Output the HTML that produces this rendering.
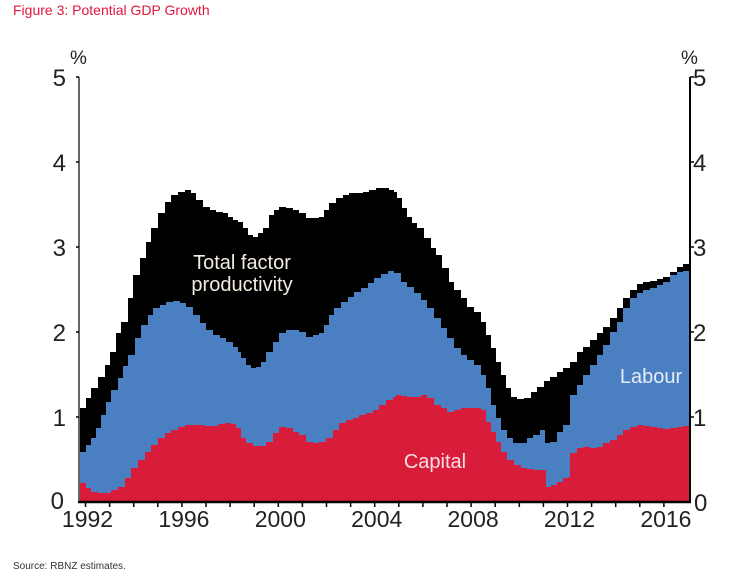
<!DOCTYPE html>
<html>
<head>
<meta charset="utf-8">
<style>
html,body{margin:0;padding:0;background:#fff;}
body{width:734px;height:580px;overflow:hidden;}
svg{display:block;}
text{font-family:"Liberation Sans",Arial,sans-serif;}
</style>
</head>
<body>
<svg width="734" height="580" viewBox="0 0 734 580" xmlns="http://www.w3.org/2000/svg">
<rect width="734" height="580" fill="#fff"/>
<text x="13" y="15" font-size="14" fill="#e2173d">Figure 3: Potential GDP Growth</text>

<!-- TFP (black) -->
<path fill="#000" d="M80,502 V408 H86 V398 H91 V388 H98 V377 H105 V365 H110 V352 H116 V333 H121 V322 H128 V298 H133 V275 H140 V258 H146 V242 H151 V228 H158 V213 H165 V202 H171 V195 H178 V192 H185 V190 H191 V193 H196 V200 H203 V207 H210 V210 H216 V212 H223 V213 H228 V217 H233 V220 H238 V222 H243 V228 H248 V235 H253 V237 H258 V233 H263 V228 H269 V215 H274 V210 H279 V207 H286 V208 H293 V210 H299 V213 H306 V218 H313 V218 H319 V217 H324 V210 H329 V203 H336 V198 H343 V195 H349 V193 H356 V193 H363 V192 H369 V190 H376 V188 H383 V188 H389 V190 H394 V192 H397 V198 H402 V208 H407 V217 H412 V223 H417 V228 H424 V238 H431 V248 H436 V255 H442 V268 H449 V282 H454 V290 H461 V298 H467 V307 H474 V312 H481 V322 H486 V335 H491 V348 H496 V362 H501 V375 H506 V388 H511 V397 H517 V399 H524 V398 H531 V392 H537 V387 H544 V381 H550 V377 H557 V372 H563 V368 H570 V362 H577 V352 H583 V347 H590 V340 H597 V333 H603 V327 H610 V318 H617 V308 H623 V298 H630 V290 H637 V284 H643 V282 H650 V281 H657 V279 H663 V277 H670 V272 H677 V267 H683 V264 H689 V502 Z"/>

<!-- Labour (blue) -->
<path fill="#4a7fc1" d="M80,502 V452 H86 V445 H91 V438 H96 V428 H101 V415 H106 V402 H111 V390 H118 V378 H123 V366 H128 V355 H135 V338 H141 V325 H148 V315 H153 V308 H160 V305 H166 V302 H173 V301 H180 V303 H186 V307 H193 V315 H200 V323 H206 V330 H213 V335 H220 V338 H226 V342 H233 V347 H238 V352 H241 V358 H246 V365 H251 V368 H256 V367 H261 V362 H266 V352 H273 V342 H279 V333 H286 V330 H293 V330 H299 V332 H306 V337 H313 V335 H319 V333 H324 V325 H329 V315 H334 V308 H341 V302 H348 V297 H354 V292 H361 V288 H368 V283 H374 V278 H381 V274 H388 V271 H394 V273 H401 V282 H407 V287 H414 V293 H421 V300 H427 V308 H434 V318 H441 V328 H447 V338 H454 V348 H461 V355 H467 V360 H474 V365 H481 V375 H486 V388 H491 V405 H496 V418 H501 V430 H507 V438 H513 V443 H520 V443 H527 V438 H533 V435 H540 V430 H545 V443 H550 V442 H557 V432 H563 V425 H570 V395 H577 V385 H583 V375 H590 V365 H597 V355 H603 V345 H610 V332 H617 V322 H623 V308 H630 V298 H637 V293 H643 V290 H650 V288 H657 V285 H663 V282 H670 V275 H677 V272 H683 V271 H689 V502 Z"/>

<!-- Capital (red) -->
<path fill="#d81c39" d="M80,502 V483 H86 V488 H91 V492 H98 V493 H105 V493 H111 V490 H118 V487 H125 V478 H131 V468 H138 V460 H145 V452 H151 V445 H158 V438 H165 V433 H171 V430 H178 V427 H185 V425 H191 V425 H198 V425 H205 V426 H211 V426 H218 V424 H225 V423 H231 V424 H236 V428 H241 V438 H246 V443 H253 V446 H259 V446 H266 V442 H273 V433 H279 V427 H286 V428 H293 V432 H299 V435 H306 V442 H313 V443 H319 V442 H326 V438 H333 V430 H339 V423 H346 V420 H353 V418 H359 V415 H366 V413 H373 V410 H379 V405 H386 V400 H393 V397 H396 V395 H401 V396 H407 V397 H414 V397 H421 V395 H427 V398 H434 V405 H441 V408 H447 V412 H454 V410 H461 V408 H467 V408 H474 V408 H481 V410 H486 V422 H491 V432 H496 V442 H501 V452 H507 V460 H514 V465 H521 V468 H527 V469 H534 V470 H541 V470 H546 V487 H551 V485 H557 V482 H563 V478 H568 V477 H570 V453 H577 V448 H583 V447 H590 V448 H597 V447 H603 V443 H610 V440 H617 V435 H623 V430 H630 V427 H637 V425 H643 V426 H650 V427 H657 V428 H663 V429 H670 V428 H677 V427 H683 V426 H689 V502 Z"/>

<!-- series labels -->
<text x="242" y="269" font-size="20" fill="#f3ece2" text-anchor="middle">Total factor</text>
<text x="242" y="291" font-size="20" fill="#f3ece2" text-anchor="middle">productivity</text>
<text x="651" y="383" font-size="20" fill="#e6edf8" text-anchor="middle">Labour</text>
<text x="435" y="468" font-size="20" fill="#f8dfe3" text-anchor="middle">Capital</text>

<!-- axes -->
<line x1="79" y1="77" x2="79" y2="503" stroke="#666" stroke-width="2"/>
<line x1="690" y1="77" x2="690" y2="503" stroke="#000" stroke-width="2"/>
<line x1="78" y1="502" x2="691" y2="502" stroke="#000" stroke-width="2.5"/>

<!-- y ticks -->
<g stroke="#000" stroke-width="1.5">
<line x1="76" y1="77" x2="79" y2="77"/>
<line x1="76" y1="162" x2="79" y2="162"/>
<line x1="76" y1="247" x2="79" y2="247"/>
<line x1="76" y1="332" x2="79" y2="332"/>
<line x1="76" y1="417" x2="79" y2="417"/>
<line x1="690" y1="77" x2="694" y2="77"/>
<line x1="690" y1="162" x2="694" y2="162"/>
<line x1="690" y1="247" x2="694" y2="247"/>
<line x1="690" y1="332" x2="694" y2="332"/>
<line x1="690" y1="417" x2="694" y2="417"/>
</g>

<!-- x ticks -->
<g stroke="#000" stroke-width="1.5">
<line x1="85.5" y1="502" x2="85.5" y2="507"/>
<line x1="109.6" y1="502" x2="109.6" y2="507"/>
<line x1="133.7" y1="502" x2="133.7" y2="507"/>
<line x1="157.8" y1="502" x2="157.8" y2="507"/>
<line x1="181.9" y1="502" x2="181.9" y2="507"/>
<line x1="206" y1="502" x2="206" y2="507"/>
<line x1="230.1" y1="502" x2="230.1" y2="507"/>
<line x1="254.2" y1="502" x2="254.2" y2="507"/>
<line x1="278.3" y1="502" x2="278.3" y2="507"/>
<line x1="302.4" y1="502" x2="302.4" y2="507"/>
<line x1="326.5" y1="502" x2="326.5" y2="507"/>
<line x1="350.6" y1="502" x2="350.6" y2="507"/>
<line x1="374.7" y1="502" x2="374.7" y2="507"/>
<line x1="398.8" y1="502" x2="398.8" y2="507"/>
<line x1="422.9" y1="502" x2="422.9" y2="507"/>
<line x1="447" y1="502" x2="447" y2="507"/>
<line x1="471.1" y1="502" x2="471.1" y2="507"/>
<line x1="495.2" y1="502" x2="495.2" y2="507"/>
<line x1="519.3" y1="502" x2="519.3" y2="507"/>
<line x1="543.4" y1="502" x2="543.4" y2="507"/>
<line x1="567.5" y1="502" x2="567.5" y2="507"/>
<line x1="591.6" y1="502" x2="591.6" y2="507"/>
<line x1="615.7" y1="502" x2="615.7" y2="507"/>
<line x1="639.8" y1="502" x2="639.8" y2="507"/>
<line x1="663.9" y1="502" x2="663.9" y2="507"/>
</g>

<!-- y labels -->
<g font-size="24" fill="#222" text-anchor="end">
<text x="66" y="86">5</text>
<text x="66" y="171">4</text>
<text x="66" y="256">3</text>
<text x="66" y="341">2</text>
<text x="66" y="426">1</text>
<text x="64" y="509">0</text>
</g>
<g font-size="24" fill="#222">
<text x="693" y="86">5</text>
<text x="693" y="171">4</text>
<text x="693" y="256">3</text>
<text x="693" y="341">2</text>
<text x="693" y="426">1</text>
<text x="694" y="511">0</text>
</g>
<text x="70" y="64" font-size="19" fill="#222">%</text>
<text x="681" y="64" font-size="19" fill="#222">%</text>

<!-- x labels -->
<g font-size="23" fill="#222" text-anchor="middle">
<text x="87.5" y="527">1992</text>
<text x="183.9" y="527">1996</text>
<text x="280.3" y="527">2000</text>
<text x="376.7" y="527">2004</text>
<text x="473.1" y="527">2008</text>
<text x="569.5" y="527">2012</text>
<text x="665.9" y="527">2016</text>
</g>

<text x="13" y="569" font-size="10" fill="#333">Source: RBNZ estimates.</text>
</svg>
</body>
</html>
